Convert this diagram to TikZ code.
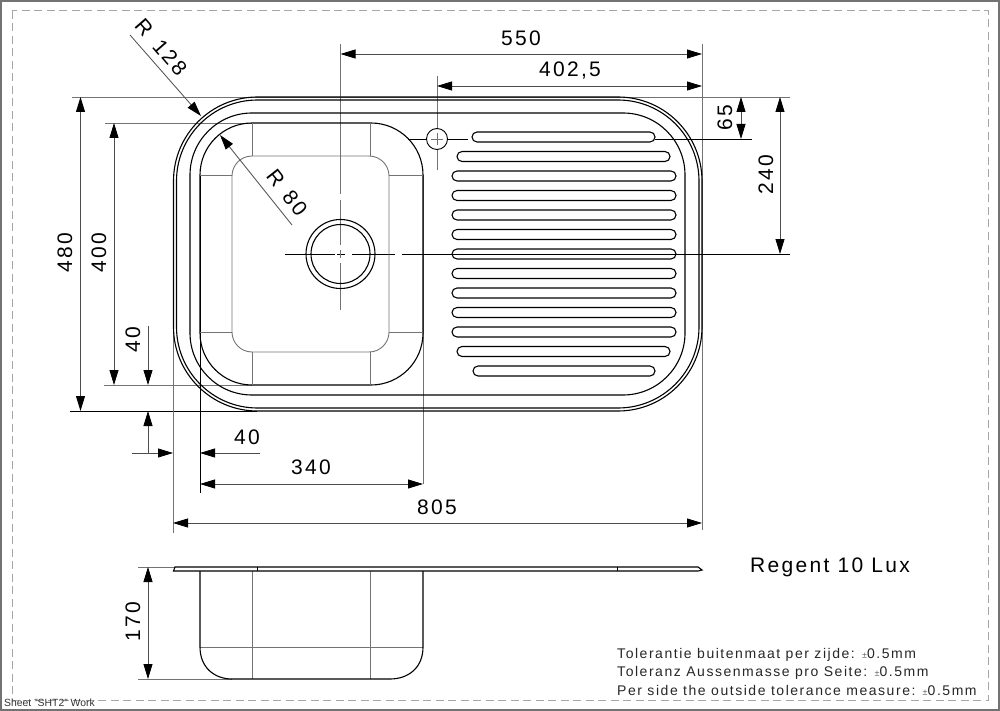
\documentclass[tikz,border=0pt]{standalone}
\usepackage{fontspec}
\usetikzlibrary{arrows.meta}
\setmainfont{Liberation Sans}
\newfontfamily\dimfont[LetterSpace=11]{Liberation Sans}
\newfontfamily\notefont[LetterSpace=11]{Liberation Sans}
\newfontfamily\namefont[LetterSpace=11]{Liberation Sans}
\newcommand{\notepm}{{\color{black!60}\fontsize{9}{9}\selectfont\textpm}}
\tikzset{
  edge/.style={black,line width=1.1pt},
  soft/.style={black!55,line width=0.9pt},
  ext/.style={black!55,line width=0.8pt},
  dim/.style={black!70,line width=0.8pt,{Triangle[length=15pt,width=9pt,color=black]}-{Triangle[length=15pt,width=9pt,color=black]}},
  lead/.style={black!70,line width=0.8pt,-{Triangle[length=15pt,width=9pt,color=black]}},
  dimtext/.style={font=\dimfont\fontsize{21}{21}\selectfont,inner sep=0pt},
  notetext/.style={font=\notefont\fontsize{14}{14}\selectfont,anchor=base west,inner sep=0pt,black!85}
}
\begin{document}
\begin{tikzpicture}[x=1pt,y=-1pt]
\useasboundingbox (0,0) rectangle (1000,711);
% sheet frame
\draw[black!55,line width=1.5pt] (0.8,0.8) rectangle (999.2,710.2);
\draw[black!35,line width=1pt,dash pattern=on 8pt off 4.5pt] (12,11) rectangle (988,700);
% extension lines
\draw[ext] (72,97) -- (790,97);
\draw[ext] (105,123) -- (252,123);
\draw[ext] (104,385) -- (252,385);
\draw[black,line width=0.8pt] (70,411) -- (257,411);
\draw[ext] (173,180) -- (173,533);
\draw[black,line width=0.8pt] (200,175) -- (200,493);
\draw[ext] (423,175) -- (423,484);
\draw[ext] (702,44) -- (702,530);
\draw[ext] (437,76) -- (437,170);
\draw[black,line width=0.8pt] (655,139) -- (752,139);
\draw[black,line width=0.8pt] (408,139) -- (468,139);
% centre lines of the waste
\draw[black,line width=0.8pt] (285,254) -- (335,254);
\draw[black,line width=0.8pt] (337,254) -- (345,254);
\draw[black,line width=0.8pt] (352,254) -- (395,254);
\draw[black,line width=0.8pt] (402,254) -- (790,254);
\draw[ext] (340.5,44) -- (340.5,194);
\draw[ext] (340.5,200) -- (340.5,245);
\draw[ext] (340.5,250) -- (340.5,258);
\draw[ext] (340.5,263) -- (340.5,310);
% top view
\draw[edge,rounded corners=84pt] (173.5,97) rectangle (702,411);
\draw[edge,rounded corners=81pt] (176.5,100) rectangle (699,408);
\draw[edge,rounded corners=62pt] (190,113) rectangle (685,395);
\draw[edge,rounded corners=52pt] (200,123) rectangle (423,385);
\draw[soft,rounded corners=20pt] (232,156) rectangle (389,352);
\draw[soft] (252,123) -- (252,156);
\draw[soft] (370,123) -- (370,156);
\draw[soft] (252,352) -- (252,385);
\draw[soft] (370,352) -- (370,385);
\draw[soft] (200,175) -- (232,175);
\draw[soft] (389,175) -- (423,175);
\draw[soft] (200,332) -- (232,332);
\draw[soft] (389,332) -- (423,332);
\draw[edge] (340.5,254) circle [radius=34.5];
\draw[edge] (340.5,254) circle [radius=29.5];
\draw[black,line width=0.9pt,fill=white] (437,139) circle [radius=10.5];
\draw[ext] (431,139) -- (443,139);
\draw[ext] (437,133) -- (437,145);
% drainer grooves
\foreach \y/\xa/\xb in {137/472/655,156.5/457/670,176/452/676,195.5/452/676,215/452/676,234.5/452/676,
  254/452/676,273.5/452/676,293/452/676,312.5/452/676,332/452/676,351.5/457/670,371/473/655}
  \draw[edge,rounded corners=5pt] (\xa,\y-5) rectangle (\xb,\y+5);
% dimensions
\draw[dim] (340.5,54) -- (702,54);
\draw[dim] (437,86) -- (702,86);
\draw[dim] (741,97) -- (741,139);
\draw[dim] (780,97) -- (780,254);
\draw[dim] (80.5,97) -- (80.5,411);
\draw[dim] (114,123) -- (114,385);
\draw[lead] (148,326) -- (148,385);
\draw[lead] (148,453) -- (148,411);
\draw[lead] (132,453) -- (173,453);
\draw[lead] (260,453) -- (200,453);
\draw[dim] (200,484) -- (423,484);
\draw[dim] (173,523) -- (702,523);
\draw[lead] (130,35) -- (201,116);
\draw[lead] (292,225) -- (220,135);
\node[dimtext] (top550) at (521,38) {550};
\node[dimtext] (top402) at (570,71) {402,5};
\node[dimtext,rotate=90] (right65) at (725,118) {65};
\node[dimtext,rotate=90] (right240) at (766,175) {240};
\node[dimtext,rotate=90] (left480) at (65,253) {480};
\node[dimtext,rotate=90] (left400) at (99,253) {400};
\node[dimtext,rotate=90] (left40) at (133,340) {40};
\node[dimtext] (low40) at (247,437) {40};
\node[dimtext] (low340) at (311,467) {340};
\node[dimtext] (low805) at (437,507) {805};
\node[dimtext,rotate=-49] (r128) at (161,47) {R\hspace{4pt} 128};
\node[dimtext,rotate=-52] (r80) at (287,193) {R\hspace{3pt} 80};
% side view
\draw[ext] (138,567) -- (175,567);
\draw[ext] (138,679) -- (232,679);
\draw[soft] (252,571) -- (252,679);
\draw[soft] (370,571) -- (370,679);
\draw[soft,line width=0.7pt] (200,647) -- (423,647);
\draw[edge] (200,571) -- (200,647) .. controls (200,668) and (215,679) .. (232,679) -- (390,679) .. controls (408,679) and (423,668) .. (423,647) -- (423,571);
\draw[edge,fill=white] (175,567) -- (698,567) -- (702,570) -- (698,571) -- (173.5,571) -- cycle;
\draw[black,line width=0.6pt] (257,567) -- (257,571);
\draw[black,line width=0.6pt] (617,567) -- (617,571);
\draw[dim] (148,567) -- (148,679);
\node[dimtext,rotate=90] (side170) at (133,622) {170};
% texts
\node[font=\namefont\fontsize{21}{21}\selectfont,anchor=base west,inner sep=0pt] (model) at (750,572) {Regent 10 Lux};
\node[notetext] (note1) at (617,658) {Tolerantie buitenmaat per zijde: \notepm0.5mm};
\node[notetext] (note2) at (617,676.5) {Toleranz Aussenmasse pro Seite: \notepm0.5mm};
\node[notetext] (note3) at (617,695) {Per side the outside tolerance measure: \notepm0.5mm};
\node[font=\fontsize{10.4}{10.4}\selectfont,anchor=base west,inner sep=0pt,black!80] (sheet) at (4,706.5) {Sheet "SHT2" Work};
\end{tikzpicture}
\end{document}
